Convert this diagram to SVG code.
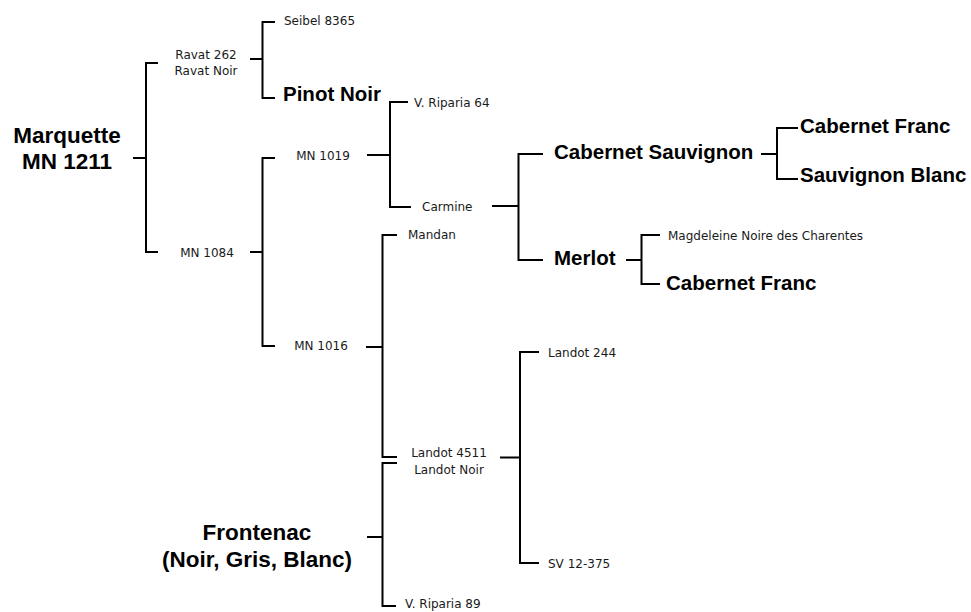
<svg xmlns="http://www.w3.org/2000/svg" width="971" height="612" viewBox="0 0 971 612">
<style>
  .bg{fill:#ffffff}
  .ln{fill:none;stroke:#000;stroke-width:2;stroke-linecap:butt;stroke-linejoin:miter}
  .lab{font-family:"DejaVu Sans",sans-serif;font-size:12px;fill:#1a1a1a}
  .mid{text-anchor:middle}
  .big{font-family:"Liberation Sans",Arial,sans-serif;font-weight:bold;font-size:20.5px;fill:#000}
  .main{font-family:"Liberation Sans",Arial,sans-serif;font-weight:bold;font-size:22.5px;fill:#000;text-anchor:middle}
</style>
<rect class="bg" x="0" y="0" width="971" height="612"/>
<g id="connectors">
  <path class="ln" d="M133 158 H146"/>
  <path class="ln" d="M158 63 H146 V252 H158"/>
  <path class="ln" d="M250 59 H262.5"/>
  <path class="ln" d="M275 22 H262.5 V98 H275"/>
  <path class="ln" d="M250 252 H262.5"/>
  <path class="ln" d="M275 158 H262.5 V346 H275"/>
  <path class="ln" d="M367 155 H390"/>
  <path class="ln" d="M408 102 H390 V207 H411"/>
  <path class="ln" d="M492 206 H518.5"/>
  <path class="ln" d="M543 154 H518.5 V260 H543"/>
  <path class="ln" d="M761 154 H777"/>
  <path class="ln" d="M798 128 H777 V179 H798"/>
  <path class="ln" d="M626 260 H641.5"/>
  <path class="ln" d="M660 235 H641.5 V284 H660"/>
  <path class="ln" d="M366 347 H382.5"/>
  <path class="ln" d="M397 235 H382.5 V457 H397"/>
  <path class="ln" d="M367 537 H382.5"/>
  <path class="ln" d="M397 463 H382.5 V606 H396"/>
  <path class="ln" d="M500 457.5 H520"/>
  <path class="ln" d="M539 352 H520 V563 H539"/>
</g>
<g id="marquette"><text class="main" x="67" y="143">Marquette</text><text class="main" x="67" y="169">MN 1211</text></g>
<g id="ravat262"><text class="lab mid" x="206" y="58.5">Ravat 262</text><text class="lab mid" x="206" y="74.5">Ravat Noir</text></g>
<g id="seibel8365"><text class="lab" x="284" y="25">Seibel 8365</text></g>
<g id="pinotnoir"><text class="big" x="283" y="101">Pinot Noir</text></g>
<g id="mn1084"><text class="lab mid" x="207" y="256.5">MN 1084</text></g>
<g id="mn1019"><text class="lab mid" x="323" y="159.5">MN 1019</text></g>
<g id="mn1016"><text class="lab mid" x="321" y="350">MN 1016</text></g>
<g id="vriparia64"><text class="lab" x="414" y="106.5">V. Riparia 64</text></g>
<g id="carmine"><text class="lab" x="422" y="210.5">Carmine</text></g>
<g id="cabsauv"><text class="big" x="554" y="159">Cabernet Sauvignon</text></g>
<g id="cabfranc1"><text class="big" x="800" y="133">Cabernet Franc</text></g>
<g id="sauvblanc"><text class="big" x="800" y="182">Sauvignon Blanc</text></g>
<g id="merlot"><text class="big" x="554" y="265">Merlot</text></g>
<g id="magdeleine"><text class="lab" x="668" y="240">Magdeleine Noire des Charentes</text></g>
<g id="cabfranc2"><text class="big" x="666" y="290">Cabernet Franc</text></g>
<g id="mandan"><text class="lab" x="408" y="238.5">Mandan</text></g>
<g id="landot4511"><text class="lab mid" x="449" y="457">Landot 4511</text><text class="lab mid" x="449" y="473.5">Landot Noir</text></g>
<g id="landot244"><text class="lab" x="548" y="356.5">Landot 244</text></g>
<g id="sv12375"><text class="lab" x="548" y="567.5">SV 12-375</text></g>
<g id="frontenac"><text class="main" x="257" y="540">Frontenac</text><text class="main" x="257" y="567">(Noir, Gris, Blanc)</text></g>
<g id="vriparia89"><text class="lab" x="405" y="608">V. Riparia 89</text></g>
</svg>
